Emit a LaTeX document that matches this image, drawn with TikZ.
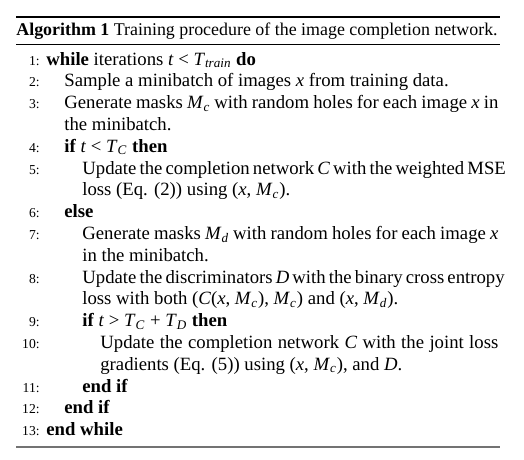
\documentclass[tikz,border=0pt]{standalone}
\usepackage{fontspec}
\setmainfont{Liberation Serif}
\usetikzlibrary{positioning}

\newcommand{\mv}[1]{\textit{#1}}
\newcommand{\ms}[2]{\textit{#1}\textsubscript{\textit{#2}}}
% justified (full) line of the given width
\newcommand{\fullline}[2]{\makebox[#1][s]{#2}}

\tikzset{
  algline/.style={anchor=base west, inner sep=0pt, font=\fontsize{10.3}{12}\selectfont},
  lineno/.style={anchor=base east, inner sep=0pt, font=\fontsize{7.5}{9}\selectfont},
  captext/.style={anchor=base west, inner sep=0pt, font=\fontsize{9.85}{12}\selectfont}
}

\begin{document}
\begin{tikzpicture}[x=0.55pt,y=-0.55pt]
    \useasboundingbox (0,0) rectangle (524,459);

    % rules round the caption and below the body
    \draw[line width=0.8pt] (16,17) -- (500,17);
    \draw[line width=0.4pt] (16,44) -- (500,44);
    \draw[line width=1pt, black!55] (16,447) -- (500,447);

    % caption
    \node[captext] (cap) at (16,35) {\textbf{Algorithm 1} Training procedure of the image completion network.};

    % line numbers, baselines 21.8 apart
    \foreach \n/\k in {1/0,2/1,3/2,4/4,5/5,6/7,7/8,8/10,9/12,10/13,11/15,12/16,13/17}
        \node[lineno] (n\n) at (40,65+21.8*\k) {\n:};

    % level 0
    \node[algline] (l1) at (46,65) {\textbf{while} iterations \mv{t} < \ms{T}{train} \textbf{do}};
    % level 1
    \node[algline] (l2) at (64,65+21.8*1) {Sample a minibatch of images \mv{x} from training data.};
    \node[algline] (l3) at (64,65+21.8*2) {\fullline{238.7pt}{Generate masks \ms{M}{c} with random holes for each image \mv{x} in}};
    \node[algline] (l3b) at (64,65+21.8*3) {the minibatch.};
    \node[algline] (l4) at (64,65+21.8*4) {\textbf{if} \mv{t} < \ms{T}{C} \textbf{then}};
    % level 2
    \node[algline] (l5) at (82,65+21.8*5) {\fullline{228.8pt}{Update the completion network \mv{C} with the weighted MSE}};
    \node[algline] (l5b) at (82,65+21.8*6) {loss (Eq. (2)) using (\mv{x}, \ms{M}{c}).};
    \node[algline] (l6) at (64,65+21.8*7) {\textbf{else}};
    \node[algline] (l7) at (82,65+21.8*8) {\fullline{228.8pt}{Generate masks \ms{M}{d} with random holes for each image \mv{x}}};
    \node[algline] (l7b) at (82,65+21.8*9) {in the minibatch.};
    \node[algline] (l8) at (82,65+21.8*10) {\fullline{228.8pt}{Update the discriminators \mv{D} with the binary cross entropy}};
    \node[algline] (l8b) at (82,65+21.8*11) {loss with both (\mv{C}(\mv{x}, \ms{M}{c}), \ms{M}{c}) and (\mv{x}, \ms{M}{d}).};
    \node[algline] (l9) at (82,65+21.8*12) {\textbf{if} \mv{t} > \ms{T}{C} + \ms{T}{D} \textbf{then}};
    % level 3
    \node[algline] (l10) at (100,65+21.8*13) {\fullline{218.9pt}{Update the completion network \mv{C} with the joint loss}};
    \node[algline] (l10b) at (100,65+21.8*14) {gradients (Eq. (5)) using (\mv{x}, \ms{M}{c}), and \mv{D}.};
    \node[algline] (l11) at (82,65+21.8*15) {\textbf{end if}};
    \node[algline] (l12) at (64,65+21.8*16) {\textbf{end if}};
    \node[algline] (l13) at (46,65+21.8*17) {\textbf{end while}};
\end{tikzpicture}
\end{document}
